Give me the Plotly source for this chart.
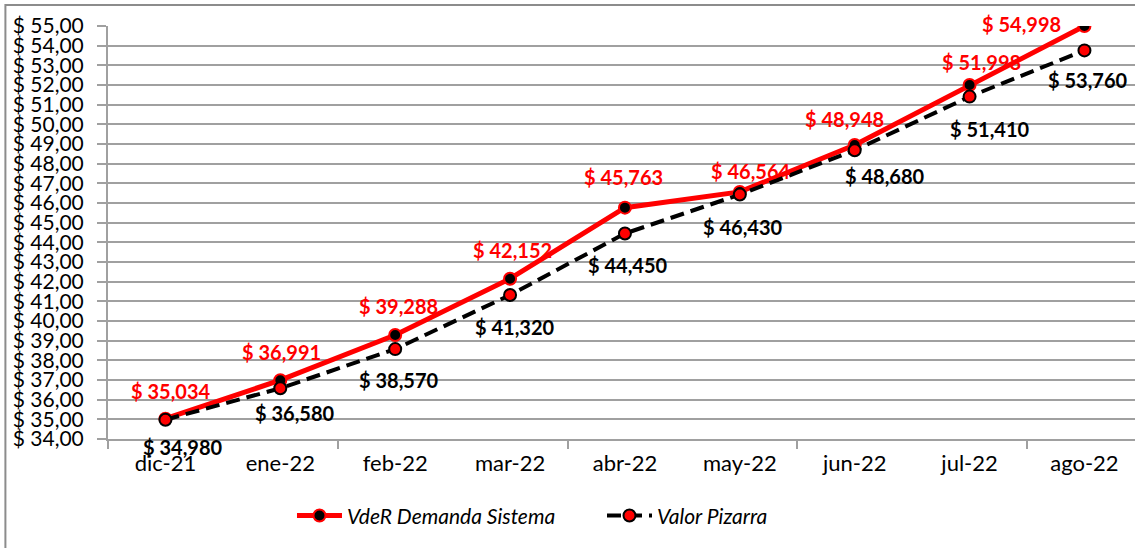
import plotly.graph_objects as go

categories = ["dic-21", "ene-22", "feb-22", "mar-22", "abr-22", "may-22", "jun-22", "jul-22", "ago-22"]
vder = [35.034, 36.991, 39.288, 42.152, 45.763, 46.564, 48.948, 51.998, 54.998]
pizarra = [34.980, 36.580, 38.570, 41.320, 44.450, 46.430, 48.680, 51.410, 53.760]

# label offsets (pixels) for data labels
vder_dx = [6, 1, 3, 2, -1, 11, -10, 12, -63]
vder_dy = [28, 28, 29, 29, 31, 21, 26, 23, 2]
piz_dx = [18, 15, 4, 5, 3, 3, 30, 20, 4]
piz_dy = [27, 25, 31, 32, 32, 32, 26, 32, 30]

xs = list(range(len(categories)))
boundaries = [-0.5, 1.5, 3.5, 5.5, 7.5]
XRANGE = [-0.5, 8.44]

def fmt(v):
    return "$ " + f"{v:.3f}".replace(".", ",")

FONT = "Lato"
GRID = "#A0A0A0"

fig = go.Figure()
fig.add_trace(go.Scatter(
    x=xs, y=vder, name="VdeR Demanda Sistema", mode="lines+markers",
    line=dict(color="#FF0000", width=5),
    marker=dict(size=12, color="#000000", line=dict(color="#FF0000", width=2)),
    hoverinfo="skip"))
fig.add_trace(go.Scatter(
    x=xs, y=pizarra, name="Valor Pizarra", mode="lines+markers", xaxis="x2", yaxis="y",
    line=dict(color="#000000", width=4, dash="14px,7px"),
    marker=dict(size=12, color="#FF0000", line=dict(color="#000000", width=2)),
    hoverinfo="skip"))

annotations = []
for i, v in enumerate(vder):
    annotations.append(dict(x=xs[i], y=v, xref="x", yref="y", text=fmt(v), showarrow=False,
                            xshift=vder_dx[i], yshift=vder_dy[i],
                            font=dict(family=FONT, size=20, color="#FF0000", weight="bold")))
for i, v in enumerate(pizarra):
    annotations.append(dict(x=xs[i], y=v, xref="x", yref="y", text=fmt(v), showarrow=False,
                            xshift=piz_dx[i], yshift=-piz_dy[i],
                            font=dict(family=FONT, size=20, color="#000000", weight="bold")))

fig.update_layout(
    width=1135, height=548,
    margin=dict(l=108, r=0, t=26, b=109),
    paper_bgcolor="white", plot_bgcolor="white",
    separators=",.",
    font=dict(family=FONT, size=22, color="#000000"),
    showlegend=True,
    legend=dict(orientation="h", x=0.481, xanchor="center", y=-0.186, yanchor="middle",
                font=dict(family=FONT, size=21, color="#000000", style="italic"),
                itemwidth=45, entrywidth=250, traceorder="normal"),
    annotations=annotations,
    shapes=[dict(type="rect", xref="paper", yref="paper",
                 x0=-0.0999, x1=1.2, y0=-0.5, y1=1.0508,
                 line=dict(color="#8C8C8C", width=2), fillcolor="rgba(0,0,0,0)", layer="below")],
    xaxis=dict(
        range=XRANGE, tickmode="array", tickvals=boundaries, ticktext=[""] * len(boundaries),
        ticks="outside", ticklen=8, tickcolor=GRID, tickwidth=2,
        showgrid=False, zeroline=False, showline=True, linecolor=GRID, linewidth=2,
    ),
    xaxis2=dict(
        range=XRANGE, overlaying="x", side="bottom", anchor="y",
        tickmode="array", tickvals=xs, ticktext=categories, ticks="",
        showgrid=False, zeroline=False, showline=False,
        tickfont=dict(family=FONT, size=22, color="#000000"), ticklabelstandoff=9,
    ),
)
fig.update_yaxes(
    range=[34, 55], dtick=1, tick0=34, tickprefix="$ ", tickformat=".2f",
    showgrid=True, gridcolor=GRID, gridwidth=2, zeroline=False,
    showline=True, linecolor=GRID, linewidth=2,
    ticks="outside", ticklen=9, tickcolor=GRID, tickwidth=2,
    tickfont=dict(family=FONT, size=21, color="#000000"), ticklabelstandoff=9,
)

fig.write_html("out.html", config={"displayModeBar": False},
               post_script="document.body.style.margin='0';")
